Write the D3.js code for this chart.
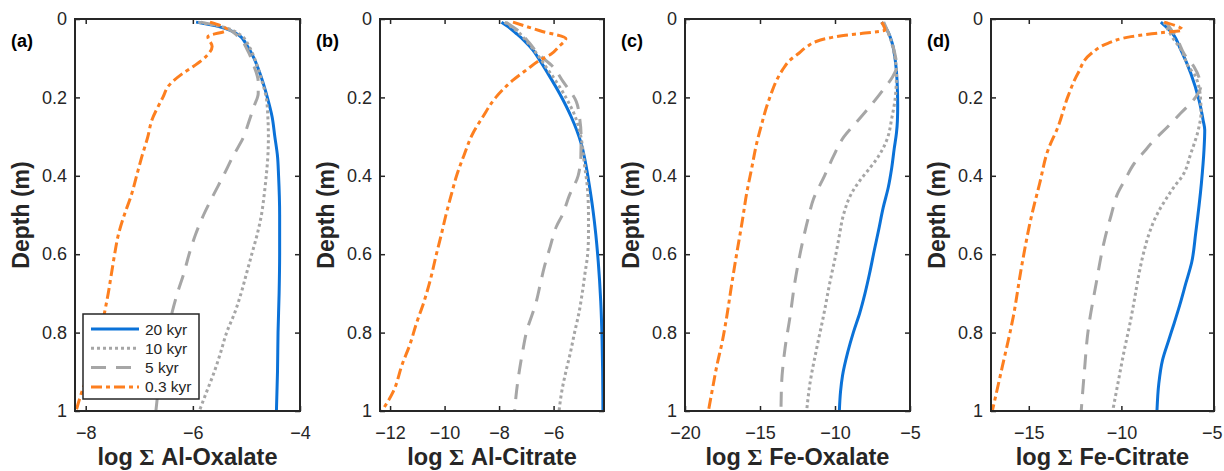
<!DOCTYPE html>
<html><head><meta charset="utf-8">
<script src="https://cdn.jsdelivr.net/npm/d3@7"></script>
<style>
html,body{margin:0;padding:0;background:#fff;}
svg{display:block;font-family:"Liberation Sans",Arial,Helvetica,sans-serif;}
</style></head>
<body><svg id="chart" width="1224" height="471"></svg>
<script>
// ---- data: [depth (m), log value] ----
const seriesNames = ["20 kyr","10 kyr","5 kyr","0.3 kyr"];
const yTicks = [0,0.2,0.4,0.6,0.8,1];

// (a) Al-Oxalate
const alOx20 = [[0.008,-5.94],[0.02,-5.5],[0.04,-5.15],[0.07,-4.98],[0.1,-4.86],[0.15,-4.72],[0.2,-4.61],[0.25,-4.52],[0.3,-4.47],[0.35,-4.42],[0.4,-4.40],[0.5,-4.38],[0.6,-4.38],[0.7,-4.39],[0.8,-4.41],[0.9,-4.42],[1.0,-4.44]];
const alOx10 = [[0.008,-5.9],[0.02,-5.45],[0.04,-5.12],[0.07,-4.95],[0.1,-4.85],[0.15,-4.73],[0.2,-4.63],[0.25,-4.6],[0.3,-4.59],[0.35,-4.6],[0.4,-4.63],[0.45,-4.67],[0.5,-4.72],[0.55,-4.8],[0.6,-4.9],[0.65,-5.0],[0.7,-5.1],[0.75,-5.22],[0.8,-5.37],[0.85,-5.48],[0.9,-5.6],[0.95,-5.74],[1.0,-5.88]];
const alOx5 = [[0.008,-5.85],[0.02,-5.45],[0.045,-5.15],[0.08,-4.98],[0.12,-4.86],[0.16,-4.78],[0.19,-4.78],[0.22,-4.85],[0.26,-4.95],[0.3,-5.05],[0.35,-5.25],[0.4,-5.43],[0.45,-5.62],[0.5,-5.8],[0.55,-5.95],[0.6,-6.07],[0.65,-6.17],[0.7,-6.29],[0.75,-6.39],[0.8,-6.47],[0.85,-6.54],[0.9,-6.6],[0.95,-6.65],[1.0,-6.69]];
const alOx03 = [[0.008,-5.68],[0.028,-5.36],[0.045,-5.72],[0.07,-5.64],[0.095,-5.75],[0.12,-5.98],[0.14,-6.2],[0.17,-6.45],[0.2,-6.56],[0.26,-6.77],[0.3,-6.84],[0.35,-6.95],[0.4,-7.05],[0.45,-7.15],[0.5,-7.28],[0.55,-7.39],[0.6,-7.46],[0.65,-7.52],[0.7,-7.58],[0.75,-7.65],[0.8,-7.72],[0.85,-7.8],[0.9,-7.93],[0.95,-8.07],[1.0,-8.18]];

// (b) Al-Citrate
const alCit20 = [[0.008,-7.91],[0.02,-7.66],[0.037,-7.37],[0.055,-7.08],[0.079,-6.76],[0.105,-6.51],[0.14,-6.2],[0.19,-5.78],[0.25,-5.35],[0.317,-4.99],[0.37,-4.82],[0.428,-4.68],[0.49,-4.55],[0.55,-4.45],[0.62,-4.36],[0.72,-4.27],[0.82,-4.22],[0.9,-4.2],[1.0,-4.19]];
const alCit10 = [[0.008,-7.8],[0.03,-7.35],[0.06,-6.95],[0.09,-6.6],[0.12,-6.3],[0.16,-5.9],[0.2,-5.55],[0.25,-5.2],[0.3,-5.0],[0.37,-4.87],[0.43,-4.76],[0.5,-4.72],[0.55,-4.72],[0.6,-4.75],[0.65,-4.85],[0.7,-4.95],[0.75,-5.07],[0.8,-5.23],[0.85,-5.38],[0.9,-5.55],[0.95,-5.7],[1.0,-5.8]];
const alCit5 = [[0.008,-7.75],[0.03,-7.3],[0.06,-6.9],[0.09,-6.55],[0.12,-6.05],[0.16,-5.65],[0.21,-5.17],[0.25,-5.05],[0.3,-4.99],[0.35,-5.0],[0.4,-5.1],[0.45,-5.42],[0.5,-5.68],[0.53,-5.9],[0.58,-6.12],[0.63,-6.33],[0.68,-6.5],[0.72,-6.63],[0.8,-7.0],[0.85,-7.14],[0.89,-7.24],[0.95,-7.36],[1.0,-7.43]];
const alCit03 = [[0.008,-7.49],[0.03,-6.5],[0.05,-5.55],[0.07,-5.8],[0.09,-6.1],[0.105,-6.5],[0.13,-7.0],[0.156,-7.49],[0.2,-8.12],[0.25,-8.6],[0.29,-8.95],[0.35,-9.3],[0.4,-9.56],[0.45,-9.76],[0.5,-9.95],[0.55,-10.12],[0.6,-10.3],[0.67,-10.54],[0.72,-10.75],[0.78,-11.05],[0.83,-11.27],[0.88,-11.55],[0.95,-11.88],[1.0,-12.3]];

// (c) Fe-Oxalate
const feOx20 = [[0.008,-6.89],[0.03,-6.5],[0.06,-6.2],[0.1,-6.0],[0.16,-5.86],[0.22,-5.82],[0.26,-5.84],[0.29,-5.9],[0.33,-6.05],[0.38,-6.22],[0.43,-6.45],[0.48,-6.78],[0.54,-7.1],[0.59,-7.38],[0.65,-7.7],[0.7,-8.0],[0.75,-8.35],[0.8,-8.78],[0.85,-9.15],[0.91,-9.5],[0.95,-9.63],[1.0,-9.71]];
const feOx10 = [[0.008,-6.8],[0.04,-6.4],[0.08,-6.1],[0.14,-5.9],[0.2,-5.98],[0.25,-6.2],[0.31,-6.56],[0.35,-7.1],[0.38,-7.67],[0.41,-8.3],[0.445,-8.9],[0.5,-9.44],[0.55,-9.7],[0.59,-9.89],[0.67,-10.33],[0.76,-10.78],[0.84,-11.22],[0.93,-11.67],[1.0,-11.89]];
const feOx5 = [[0.008,-6.75],[0.05,-6.3],[0.09,-6.0],[0.12,-5.89],[0.15,-6.2],[0.18,-6.78],[0.22,-7.6],[0.26,-8.5],[0.3,-9.4],[0.35,-10.1],[0.4,-10.7],[0.46,-11.44],[0.51,-11.8],[0.56,-12.11],[0.67,-12.67],[0.76,-13.0],[0.84,-13.33],[0.93,-13.56],[1.0,-13.6]];
const feOx03 = [[0.008,-6.89],[0.028,-6.67],[0.036,-8.0],[0.042,-9.44],[0.05,-10.6],[0.058,-11.3],[0.07,-11.85],[0.09,-12.5],[0.105,-13.0],[0.13,-13.5],[0.156,-13.89],[0.19,-14.25],[0.224,-14.56],[0.27,-14.9],[0.317,-15.22],[0.38,-15.55],[0.445,-15.89],[0.52,-16.2],[0.6,-16.56],[0.68,-16.9],[0.76,-17.22],[0.82,-17.5],[0.887,-17.89],[0.95,-18.2],[1.0,-18.44]];

// (d) Fe-Citrate
const feCit20 = [[0.008,-7.87],[0.037,-7.24],[0.079,-6.79],[0.139,-6.25],[0.207,-5.81],[0.26,-5.58],[0.283,-5.5],[0.334,-5.54],[0.419,-5.68],[0.547,-5.99],[0.62,-6.2],[0.674,-6.52],[0.73,-6.85],[0.776,-7.15],[0.82,-7.45],[0.87,-7.78],[0.93,-7.98],[1.0,-8.08]];
const feCit10 = [[0.008,-7.7],[0.05,-7.2],[0.08,-6.75],[0.12,-6.4],[0.147,-5.99],[0.207,-5.72],[0.24,-5.7],[0.275,-5.81],[0.343,-6.25],[0.4,-6.7],[0.428,-7.15],[0.46,-7.6],[0.496,-8.05],[0.54,-8.45],[0.589,-8.76],[0.65,-9.05],[0.717,-9.3],[0.78,-9.55],[0.844,-9.84],[0.92,-10.15],[1.0,-10.47]];
const feCit5 = [[0.008,-7.6],[0.05,-7.0],[0.09,-6.6],[0.122,-6.08],[0.173,-5.72],[0.2,-6.0],[0.24,-6.79],[0.275,-7.5],[0.309,-8.23],[0.34,-8.8],[0.368,-9.3],[0.41,-9.8],[0.445,-10.2],[0.5,-10.55],[0.564,-10.91],[0.674,-11.36],[0.8,-11.81],[0.9,-12.0],[1.0,-12.17]];
const feCit03 = [[0.008,-7.69],[0.028,-6.7],[0.035,-7.87],[0.045,-9.48],[0.062,-10.73],[0.088,-11.63],[0.139,-12.35],[0.198,-12.89],[0.275,-13.42],[0.334,-13.96],[0.419,-14.41],[0.504,-14.86],[0.632,-15.39],[0.76,-15.84],[0.887,-16.43],[1.0,-16.97]];

const panelLabels = ["(a)","(b)","(c)","(d)"];
const xLabels = ["Al-Oxalate","Al-Citrate","Fe-Oxalate","Fe-Citrate"];
const xTicksA = [-8,-6,-4], xTicksB = [-12,-10,-8,-6], xTicksC = [-20,-15,-10,-5], xTicksD = [-15,-10,-5];
const xDomainA = [-8.2,-4], xDomainB = [-12.37,-4.15], xDomainC = [-20,-5], xDomainD = [-17.04,-5];

// ---- layout / style ----
const panels = [
  {left:75,  right:300,  domain:xDomainA, ticks:xTicksA, series:[alOx20,alOx10,alOx5,alOx03], legend:true},
  {left:380, right:604,  domain:xDomainB, ticks:xTicksB, series:[alCit20,alCit10,alCit5,alCit03]},
  {left:685, right:910,  domain:xDomainC, ticks:xTicksC, series:[feOx20,feOx10,feOx5,feOx03]},
  {left:991, right:1214, domain:xDomainD, ticks:xTicksD, series:[feCit20,feCit10,feCit5,feCit03]}
];
const plotTop = 19, plotBottom = 411;
const styles = [
  {color:"#0b72d8", dash:null},
  {color:"#a6a6a6", dash:"3,3"},
  {color:"#a6a6a6", dash:"15,10"},
  {color:"#fd7f1f", dash:"11,4,4,4"}
];
const axisColor = "#262626";

const svg = d3.select("#chart");
const y = d3.scaleLinear().domain([0,1]).range([plotTop,plotBottom]);

panels.forEach((p,i)=>{
  const x = d3.scaleLinear().domain(p.domain).range([p.left,p.right]);
  const g = svg.append("g");
  const clipId = "clip"+i;
  svg.append("clipPath").attr("id",clipId).append("rect")
    .attr("x",p.left).attr("y",plotTop).attr("width",p.right-p.left).attr("height",plotBottom-plotTop);

  const line = d3.line().x(d=>x(d[1])).y(d=>y(d[0])).curve(d3.curveMonotoneY);
  const lg = g.append("g").attr("clip-path",`url(#${clipId})`);
  p.series.forEach((s,k)=>{
    lg.append("path").attr("d",line(s)).attr("fill","none")
      .attr("stroke",styles[k].color).attr("stroke-width",3)
      .attr("stroke-dasharray",styles[k].dash)
      .attr("stroke-linejoin","round");
  });

  const tl = 5;
  const xb = d3.axisBottom(x).tickValues(p.ticks).tickSize(-tl).tickPadding(15).tickFormat(d3.format("d"));
  const xt = d3.axisTop(x).tickValues(p.ticks).tickSize(-tl).tickFormat("");
  const yl = d3.axisLeft(y).tickValues(yTicks).tickSize(-tl).tickPadding(8).tickFormat(d=>d===0||d===1?String(d):d3.format(".1f")(d));
  const yr = d3.axisRight(y).tickValues(yTicks).tickSize(-tl).tickFormat("");
  const ax = [
    g.append("g").attr("transform",`translate(0,${plotBottom})`).call(xb),
    g.append("g").attr("transform",`translate(0,${plotTop})`).call(xt),
    g.append("g").attr("transform",`translate(${p.left},0)`).call(yl),
    g.append("g").attr("transform",`translate(${p.right},0)`).call(yr)
  ];
  ax.forEach(a=>{
    a.select(".domain").remove();
    a.selectAll(".tick line").attr("stroke",axisColor).attr("stroke-width",1.5);
    a.selectAll(".tick text").attr("fill",axisColor).style("font-size","18px").style("font-family","'Liberation Sans',Arial,sans-serif");
  });
  // keep tick labels inside the canvas
  ax[0].selectAll(".tick").each(function(d){
    const t = d3.select(this).select("text");
    const bb = this.getBBox();
    const tx = x(d);
    const rightEdge = tx + bb.width/2;
    if(rightEdge > 1222) t.attr("x", 1222 - rightEdge);
  });
  g.append("rect").attr("x",p.left).attr("y",plotTop).attr("width",p.right-p.left).attr("height",plotBottom-plotTop)
    .attr("fill","none").attr("stroke",axisColor).attr("stroke-width",2);

  g.append("text").attr("x",p.left-64).attr("y",47).attr("font-weight","bold").attr("font-size",18)
    .attr("fill","#000").text(panelLabels[i]);
  g.append("text").attr("transform",`translate(${p.left-46},${(plotTop+plotBottom)/2}) rotate(-90)`)
    .attr("text-anchor","middle").attr("font-weight","bold").attr("font-size",23).attr("fill",axisColor)
    .text("Depth (m)");
  const xl = g.append("text").attr("x",(p.left+p.right)/2).attr("y",465).attr("text-anchor","middle")
    .attr("font-weight","bold").attr("font-size",23.5).attr("fill",axisColor);
  xl.append("tspan").text("log ");
  xl.append("tspan").attr("font-family","'Liberation Serif','Times New Roman',serif").text("\u03A3");
  xl.append("tspan").text(" " + xLabels[i]);

  if(p.legend){
    const lx = 83, ly = 314, lw = 116, lh = 85;
    const leg = g.append("g");
    leg.append("rect").attr("x",lx).attr("y",ly).attr("width",lw).attr("height",lh)
      .attr("fill","#fff").attr("stroke",axisColor).attr("stroke-width",1.5);
    seriesNames.forEach((n,k)=>{
      const yy = ly + 15 + k*19.3;
      leg.append("line").attr("x1",lx+8).attr("x2",lx+56).attr("y1",yy).attr("y2",yy)
        .attr("stroke",styles[k].color).attr("stroke-width",3).attr("stroke-dasharray",styles[k].dash);
      leg.append("text").attr("x",lx+62).attr("y",yy).attr("dy","0.36em").attr("font-size",15.5)
        .attr("fill",axisColor).text(n);
    });
  }
});
</script>
</body></html>
